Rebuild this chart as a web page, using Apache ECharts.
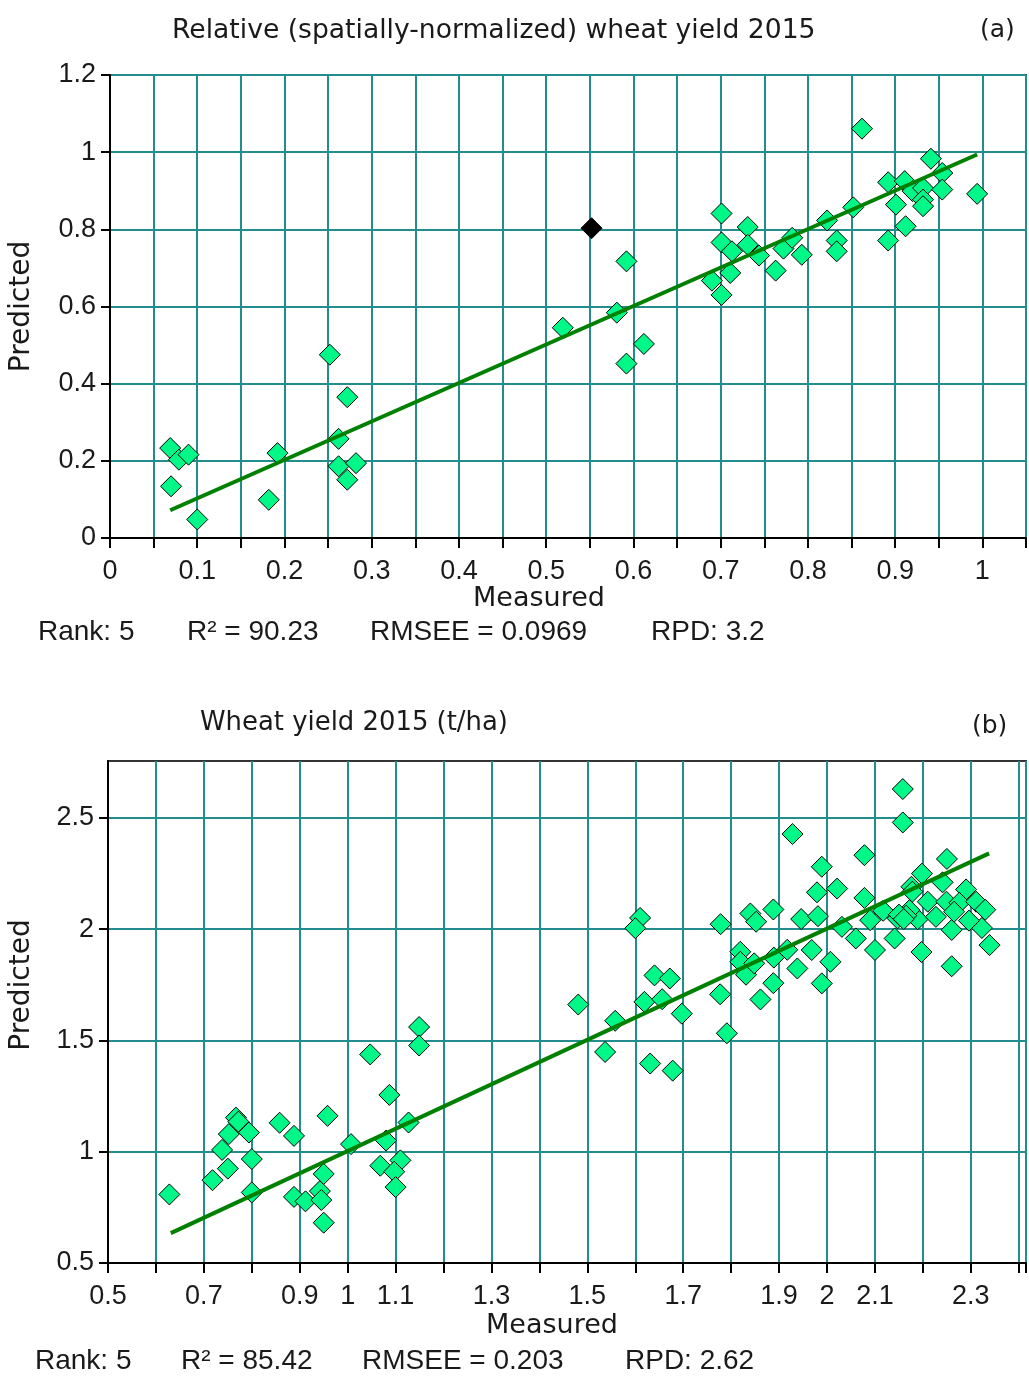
<!DOCTYPE html>
<html>
<head>
<meta charset="utf-8">
<script src="https://cdn.jsdelivr.net/npm/echarts@6/dist/echarts.min.js"></script>
<style>
html,body{margin:0;padding:0;background:#fff;}
#chart{width:1029px;height:1378px;}
</style>
</head>
<body>
<div id="chart"></div>
<script>
// ---------- Panel (a): relative wheat yield ----------
const titleA = 'Relative (spatially-normalized) wheat yield 2015';
const tagA = '(a)';
const statsA = ['Rank: 5', 'R\u00B2 = 90.23', 'RMSEE = 0.0969', 'RPD: 3.2'];
const xTicksA = ['0','0.1','0.2','0.3','0.4','0.5','0.6','0.7','0.8','0.9','1'];
const yTicksA = ['0','0.2','0.4','0.6','0.8','1','1.2'];
const measA = [0.069,0.079,0.090,0.070,0.100,0.192,0.182,0.252,0.272,0.262,0.262,0.282,0.272,
  0.519,0.581,0.592,0.592,0.612,0.690,0.701,0.701,0.701,0.711,0.713,0.731,0.731,0.744,0.763,
  0.772,0.782,0.793,0.822,0.833,0.833,0.852,0.862,0.892,0.892,0.901,0.911,0.912,0.920,0.932,
  0.932,0.932,0.941,0.954,0.954,0.994];
const predA = [0.233,0.203,0.216,0.134,0.048,0.220,0.099,0.475,0.365,0.257,0.186,0.194,0.151,
  0.545,0.584,0.717,0.452,0.503,0.667,0.841,0.766,0.630,0.687,0.743,0.806,0.760,0.732,0.693,
  0.750,0.778,0.734,0.823,0.771,0.743,0.857,1.061,0.922,0.771,0.864,0.925,0.808,0.899,0.907,
  0.877,0.860,0.983,0.946,0.903,0.892];
const outlierMeasA = [0.552];
const outlierPredA = [0.803];
const fitMeasA = [0.069, 0.994];
const fitPredA = [0.072, 0.994];

// ---------- Panel (b): wheat yield t/ha ----------
const titleB = 'Wheat yield 2015 (t/ha)';
const tagB = '(b)';
const statsB = ['Rank: 5', 'R\u00B2 = 85.42', 'RMSEE = 0.203', 'RPD: 2.62'];
const xTicksB = ['0.5','0.7','0.9','1','1.1','1.3','1.5','1.7','1.9','2','2.1','2.3'];
const yTicksB = ['0.5','1','1.5','2','2.5'];
const measB = [0.628,0.718,0.750,0.738,0.752,0.767,0.772,0.794,0.800,0.800,0.858,0.888,0.958,
  0.888,0.912,0.942,0.945,0.950,0.950,1.007,1.047,1.149,1.149,1.087,1.127,1.080,1.068,1.110,
  1.097,1.100,
  1.481,1.558,1.537,1.631,1.678,1.619,1.656,1.640,1.672,1.697,1.610,1.600,1.778,1.777,1.791,
  1.819,1.819,1.831,1.848,1.840,1.852,1.888,1.861,1.888,1.889,1.917,1.946,1.938,
  2.158,2.158,1.928,2.078,1.989,2.250,2.198,2.021,1.979,2.078,2.290,2.241,2.176,2.210,2.249,
  2.276,2.311,2.330,2.090,2.117,2.147,2.189,2.227,2.260,2.323,2.296,1.981,2.031,2.060,2.100,
  2.141,2.197,2.260,2.339,1.968,2.007,1.989,2.172,2.165,2.150,2.160,2.265,2.178];
const predB = [0.808,0.872,0.924,1.008,1.079,1.153,1.135,1.086,0.967,0.817,1.130,1.071,1.161,
  0.797,0.777,0.823,0.783,0.681,0.900,1.034,1.437,1.560,1.477,1.255,1.131,1.050,0.937,0.961,
  0.910,0.841,
  1.661,1.588,1.448,1.396,1.364,1.673,1.685,1.792,1.778,1.620,2.050,2.004,2.022,1.707,1.532,
  1.898,1.853,1.795,1.846,2.070,2.033,2.088,1.684,1.757,1.872,1.907,2.045,1.823,
  2.629,2.479,2.427,2.332,2.280,2.315,2.249,2.182,2.165,2.140,2.178,2.210,2.190,2.123,2.123,
  2.118,2.123,2.087,2.040,2.082,2.048,2.044,2.055,1.996,2.005,2.038,2.058,2.010,1.958,1.906,
  1.958,1.897,1.833,1.928,1.906,1.853,1.756,2.085,2.060,2.065,2.045,2.078,2.168];
const fitMeasB = [0.631, 2.338];
const fitPredB = [0.634, 2.340];

// ---------- styling ----------
const FONT_T = '"DejaVu Sans", sans-serif';
const FONT_N = '"Liberation Sans", Arial, sans-serif';
const TXT = '#1a1a1a';
const GRIDC = '#238c8c';
const FILL = '#00f888';

function fmt(v){ return String(parseFloat(Number(v).toFixed(3))); }
function pickFmt(list){ return function(v){ const s = fmt(v); return list.indexOf(s) >= 0 ? s : ''; }; }
function zip(a,b){ return a.map((v,i)=>[v,b[i]]); }

function xAxisCfg(idx, min, max, interval, ticks, nameGap, namePad){
  return {
    type:'value', gridIndex: idx, min, max, interval,
    name:'Measured', nameLocation:'middle', nameGap,
    nameTextStyle:{fontFamily:FONT_T, fontSize:27, color:TXT, padding:namePad},
    axisLine:{show:true, onZero:false, lineStyle:{color:'#000', width:2}},
    axisTick:{show:true, length:10, lineStyle:{color:'#000', width:2}},
    axisLabel:{formatter:pickFmt(ticks), margin:20, fontFamily:FONT_N, fontSize:27, color:TXT, showMaxLabel:true, showMinLabel:true, hideOverlap:false},
    splitLine:{show:true, lineStyle:{color:GRIDC, width:2}}
  };
}
function yAxisCfg(idx, min, max, interval, ticks, nameGap, namePad){
  return {
    type:'value', gridIndex: idx, min, max, interval,
    name:'Predicted', nameLocation:'middle', nameGap, nameRotate:90,
    nameTextStyle:{fontFamily:FONT_T, fontSize:28, color:TXT, padding:namePad},
    axisLine:{show:true, onZero:false, lineStyle:{color:'#000', width:2}},
    axisTick:{show:true, length:9, lineStyle:{color:'#000', width:2}, customValues: ticks.map(Number)},
    axisLabel:{formatter:pickFmt(ticks), margin:14, fontFamily:FONT_N, fontSize:27, color:TXT, hideOverlap:false},
    splitLine:{show:true, lineStyle:{color:GRIDC, width:2}}
  };
}
function titleItem(text, left, top, font, size){
  return {text, left, top, padding:0, textStyle:{fontFamily:font, fontSize:size, fontWeight:'normal', color:TXT}};
}
const statsLeftA = [38, 187, 370, 651];
const statsLeftB = [35, 181, 362, 625];

const option = {
  animation:false,
  backgroundColor:'#fff',
  title:[
    titleItem(titleA, 172, 18, FONT_T, 26.6),
    titleItem(tagA, 980, 18, FONT_T, 25),
    titleItem(titleB, 200, 710, FONT_T, 25.9),
    titleItem(tagB, 972, 714, FONT_T, 25),
    ...statsA.map((s,i)=>titleItem(s, statsLeftA[i], 618, FONT_N, 28)),
    ...statsB.map((s,i)=>titleItem(s, statsLeftB[i], 1347, FONT_N, 28))
  ],
  grid:[
    {left:110, top:75, width:918, height:463, show:true, borderColor:'#333', borderWidth:2, backgroundColor:'transparent'},
    {left:105, top:761, width:926, height:502, show:true, borderColor:'#333', borderWidth:2, backgroundColor:'transparent'}
  ],
  xAxis:[
    xAxisCfg(0, 0, 1.05, 0.05, xTicksA, 45, [0,58,0,0]),
    xAxisCfg(1, 0.5, 2.415, 0.1, xTicksB, 49, [0,30,0,0])
  ],
  yAxis:[
    yAxisCfg(0, 0, 1.2, 0.2, yTicksA, 74, [0,0,0,0]),
    yAxisCfg(1, 0.5, 2.755, 0.5, yTicksB, 72, [0,0,0,54])
  ],
  series:[
    {type:'scatter', name:'Samples (a)', xAxisIndex:0, yAxisIndex:0, data:zip(measA,predA),
     symbol:'diamond', symbolSize:21, itemStyle:{color:FILL, borderColor:'#000', borderWidth:1, opacity:1}, z:3},
    {type:'scatter', name:'Outlier (a)', xAxisIndex:0, yAxisIndex:0, data:zip(outlierMeasA,outlierPredA),
     symbol:'diamond', symbolSize:21, itemStyle:{color:'#000', borderColor:'#000', borderWidth:1, opacity:1}, z:3},
    {type:'line', name:'Fit (a)', xAxisIndex:0, yAxisIndex:0, data:zip(fitMeasA,fitPredA),
     showSymbol:false, symbol:'none', lineStyle:{color:'#008000', width:4}, z:4},
    {type:'scatter', name:'Samples (b)', xAxisIndex:1, yAxisIndex:1, data:zip(measB,predB),
     symbol:'diamond', symbolSize:21, itemStyle:{color:FILL, borderColor:'#000', borderWidth:1, opacity:1}, z:3},
    {type:'line', name:'Fit (b)', xAxisIndex:1, yAxisIndex:1, data:zip(fitMeasB,fitPredB),
     showSymbol:false, symbol:'none', lineStyle:{color:'#008000', width:4}, z:4}
  ]
};
const chart = echarts.init(document.getElementById('chart'), null, {renderer:'canvas'});
chart.setOption(option);
</script>
</body>
</html>
